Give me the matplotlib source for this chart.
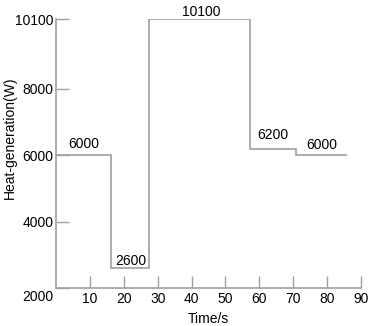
import matplotlib
matplotlib.use('Agg')
import matplotlib.pyplot as plt
import matplotlib.transforms as mtransforms

plt.rcParams['font.family'] = ['Liberation Sans', 'DejaVu Sans']
plt.rcParams['font.size'] = 10

# step change points (s) and heat generation levels (W)
edges = [0, 16.3, 27.4, 57.3, 70.8, 85.8]
levels = [6000, 2600, 10100, 6200, 6000]

# label positions for each level
label_x = [8.2, 22.0, 43.0, 64.0, 78.5]
label_y = [6350, 2800, 10300, 6600, 6300]
labels = ['6000', '2600', '10100', '6200', '6000']

xticks = [10, 20, 30, 40, 50, 60, 70, 80, 90]
yticks = [2000, 4000, 6000, 8000, 10100]

gray = '#a0a0a0'

fig = plt.figure(figsize=(3.74, 3.26), dpi=100)
ax = fig.add_axes([0.150, 0.1166, 0.815, 0.825])

ax.stairs(levels, edges, color=gray, lw=1.2, baseline=None)

for x, y, s in zip(label_x, label_y, labels):
    ax.text(x, y, s, ha='center', va='center', fontsize=10)

ax.set_xlim(0, 90)
ax.set_ylim(2000, 10100)
ax.set_xticks(xticks)
ax.set_yticks(yticks)

for side in ['top', 'right']:
    ax.spines[side].set_visible(False)
for side in ['left', 'bottom']:
    ax.spines[side].set_color(gray)
    ax.spines[side].set_linewidth(1.2)

ax.tick_params(direction='in', length=9, width=1.0, color=gray)
ax.tick_params(axis='x', pad=3)
ax.tick_params(axis='y', pad=2)
ax.set_xlabel('Time/s', labelpad=4)
ax.set_ylabel('Heat-generation(W)', va='center')
ax.yaxis.set_label_coords(-0.152, 0.56)

# bottom y label sits a bit lower, level with the x tick labels
fig.canvas.draw()
lbl = ax.get_yticklabels()[0]
lbl.set_transform(lbl.get_transform() +
                  mtransforms.ScaledTranslation(0, -8 / 100, fig.dpi_scale_trans))

plt.savefig('out.png', dpi=100)
